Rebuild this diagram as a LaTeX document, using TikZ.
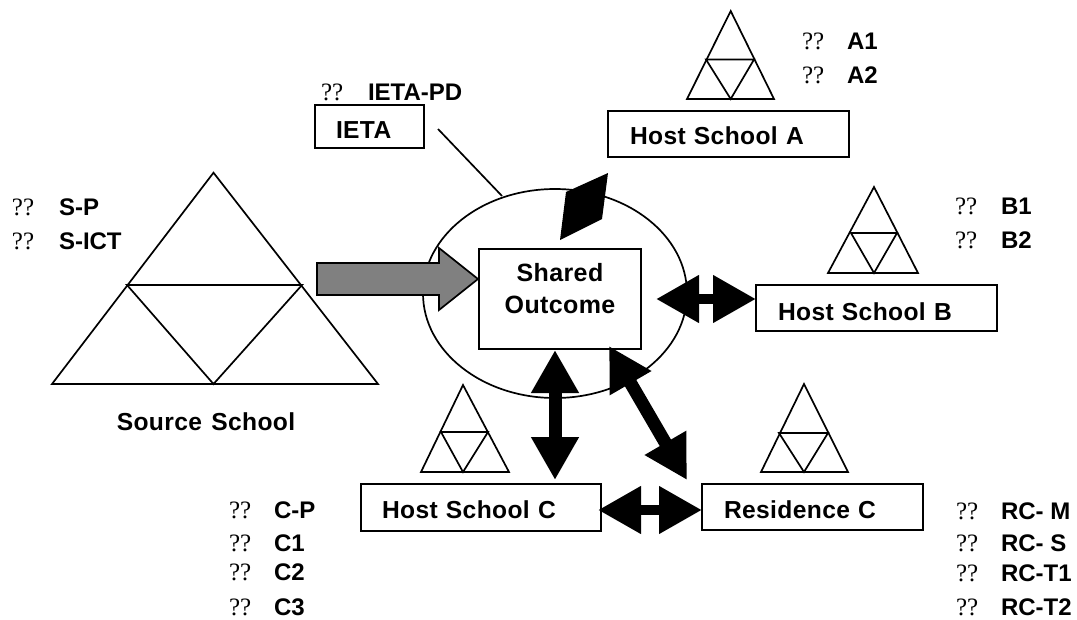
\documentclass[tikz,border=0pt]{standalone}
\usepackage{fontspec}
\setmainfont{Liberation Sans}
\newfontfamily\bul{Liberation Serif}
\newfontfamily\boxf[LetterSpace=1.5,WordSpace=1.3]{Liberation Sans}
\usetikzlibrary{arrows.meta,shapes.geometric}
\tikzset{
 x=1pt,y=-1pt,
 every node/.style={font=\fontsize{24}{28}\selectfont\bfseries,outer sep=0pt},
 outline/.style={draw=black,line width=1.7pt},
 hostbox/.style={outline,rectangle,anchor=north west,align=left,inner ysep=0pt,font=\fontsize{24.6}{28}\boxf\bfseries},
 lab/.style={anchor=west,inner sep=0pt},
 bu/.style={anchor=west,inner sep=0pt,font=\fontsize{25}{28}\bul},
 dbl/.style={line width=13pt,{Triangle[length=43pt,width=45pt]}-{Triangle[length=43pt,width=45pt]}},
 thintri/.style={outline,line join=miter}
}
\newcommand{\mytri}[8]{% apex x,y; base left x, right x, y; mid y, left x, right x
 \draw[thintri] (#1,#2) -- (#3,#5) -- (#4,#5) -- cycle;
 \draw[thintri] (#7,#6) -- (#8,#6) -- (#1,#5) -- cycle;
}
\newcommand{\bitem}[4]{\node[bu] at (#1,#3) {??}; \node[lab] at (#2,#3) {#4};}
\newcommand{\lowered}[2]{\raisebox{-#1pt}[0pt][0pt]{#2}}
\begin{document}
\begin{tikzpicture}
\useasboundingbox (0,0) rectangle (1077,619);
% ellipse
\node[outline,ellipse,minimum width=264pt,minimum height=209pt,inner sep=0pt] (circ) at (555,293.5) {};
% triangles
\mytri{213.5}{172.7}{52}{378}{384}{285}{127}{302}
\mytri{730.7}{11}{687}{774}{99}{59.5}{706}{754}
\mytri{874}{187}{828}{918}{273}{233}{851}{897}
\mytri{463}{385}{421}{509}{472}{432}{441}{488}
\mytri{804}{384}{761}{848}{472}{433}{779}{828}
% boxes
\node[hostbox,text width=197pt,inner xsep=22pt,minimum height=46pt] (hA) at (608,111) {\lowered{10.75}{Host School A}};
\node[hostbox,text width=197pt,inner xsep=22pt,minimum height=46pt] (hB) at (756,285) {\lowered{12.75}{Host School B}};
\node[hostbox,text width=198pt,inner xsep=21pt,minimum height=47pt] (hC) at (361,484) {\lowered{11.25}{Host School C}};
\node[hostbox,text width=177pt,inner xsep=22pt,minimum height=46pt] (rC) at (702,484) {\lowered{11.75}{Residence C}};
\node[hostbox,text width=67pt,inner xsep=21pt,minimum height=43pt] (ieta) at (315,105) {\lowered{12.25}{IETA}};
\node[outline,fill=white,rectangle,anchor=north west,minimum width=162pt,minimum height=100pt,inner sep=0pt,align=center,font=\fontsize{25}{32}\boxf\bfseries] (so) at (479,249) {Shared\\Outcome\\[-10pt]~};
% IETA line
\coordinate (i1) at (438,129);
\coordinate (i2) at (502,196);
\draw[line width=1.7pt] (i1) -- (i2);
% grey arrow
\coordinate (g) at (478,279);
\draw[outline,fill=black!50,line join=miter] (317,263) -- (439,263) -- (439,248) -- (g) -- (439,310) -- (439,295) -- (317,295) -- cycle;
% top parallelogram
\fill[black] (608,173) -- (566,192) -- (560,240) -- (602,219) -- cycle;
% double arrows
\coordinate (vt) at (555,350); \coordinate (vb) at (555,480);
\draw[dbl] (vt) -- (vb);
\coordinate (dt) at (609,346); \coordinate (db) at (687,480);
\draw[dbl] (dt) -- (db);
\coordinate (bl) at (656,299); \coordinate (br) at (756,299);
\draw[dbl,line width=10.5pt] (bl) -- (br);
\coordinate (cl) at (598,510); \coordinate (cr) at (702,510);
\draw[dbl,line width=10.5pt] (cl) -- (cr);
% labels
\node[anchor=center,font=\fontsize{24.6}{28}\boxf\bfseries] (src) at (206,422) {Source School};
\bitem{12}{59}{207}{S-P}
\bitem{12}{59}{241}{S-ICT}
\bitem{321}{368}{92}{IETA-PD}
\bitem{802}{847}{41}{A1}
\bitem{802}{847}{75}{A2}
\bitem{955}{1001}{206}{B1}
\bitem{955}{1001}{240}{B2}
\bitem{229}{274}{510}{C-P}
\bitem{229}{274}{543}{C1}
\bitem{229}{274}{572}{C2}
\bitem{229}{274}{607}{C3}
\bitem{956}{1001}{511}{RC- M}
\bitem{956}{1001}{543}{RC- S}
\bitem{956}{1001}{573}{RC-T1}
\bitem{956}{1001}{607}{RC-T2}
\end{tikzpicture}
\end{document}
